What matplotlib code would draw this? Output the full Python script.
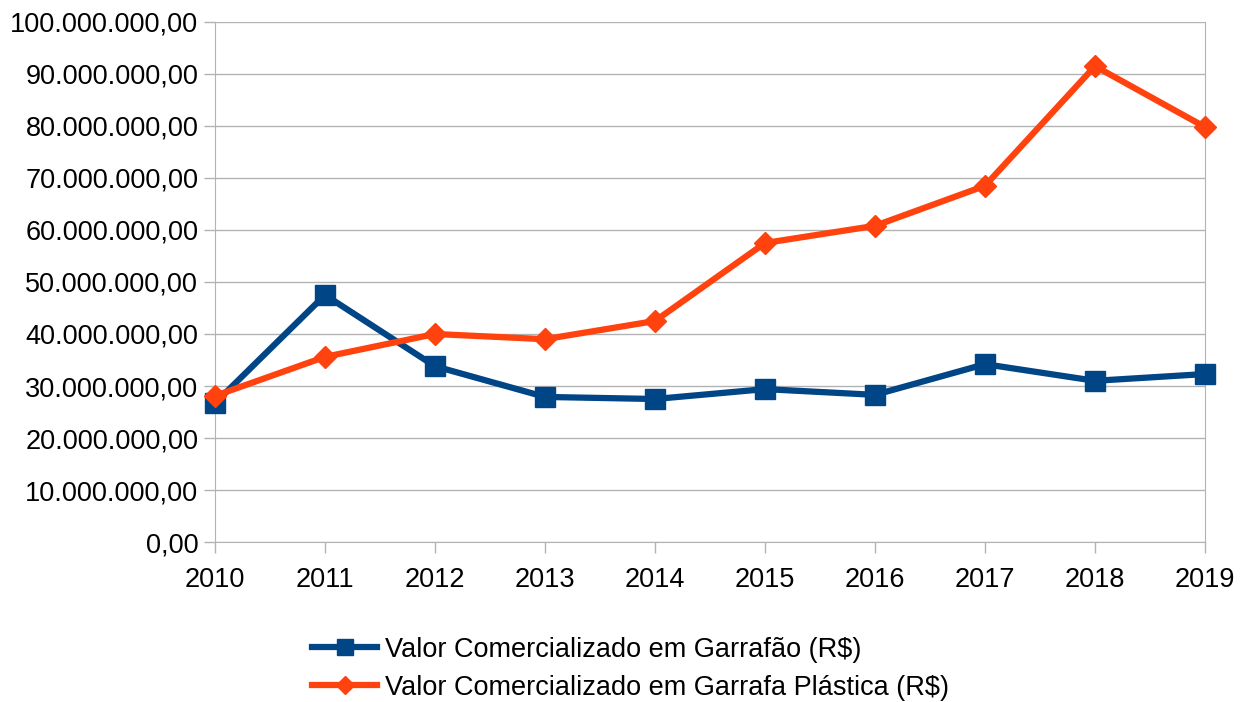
import matplotlib.pyplot as plt
from matplotlib.ticker import FuncFormatter

plt.rcParams['font.family'] = ['Liberation Sans', 'DejaVu Sans']

anos = [2010, 2011, 2012, 2013, 2014, 2015, 2016, 2017, 2018, 2019]
garrafao = [26.7e6, 47.5e6, 33.8e6, 27.9e6, 27.5e6, 29.4e6, 28.3e6, 34.2e6, 31.0e6, 32.3e6]
garrafa_plastica = [28.1e6, 35.6e6, 40.0e6, 39.0e6, 42.5e6, 57.5e6, 60.8e6, 68.5e6, 91.5e6, 79.8e6]
rotulos = ["Valor Comercializado em Garrafão (R$)",
           "Valor Comercializado em Garrafa Plástica (R$)"]

azul = "#004586"
laranja = "#ff420e"
cinza = "#b3b3b3"


def fmt_br(v, pos):
    s = f"{v:,.2f}"
    return s.replace(",", "X").replace(".", ",").replace("X", ".")


fig = plt.figure(figsize=(12.47, 7.02), dpi=100)
ax = fig.add_axes([0.1724, 0.2279, 0.7939, 0.7408])

ax.plot(anos, garrafao, color=azul, lw=4.5, marker="s", ms=14,
        label=rotulos[0], zorder=3, clip_on=False)
ax.plot(anos, garrafa_plastica, color=laranja, lw=4.5, marker="D", ms=11.5,
        label=rotulos[1], zorder=4, clip_on=False)

ax.set_xlim(2010, 2019)
ax.set_ylim(0, 100e6)
ax.set_xticks(anos)
ax.set_yticks([i * 10e6 for i in range(11)])
ax.yaxis.set_major_formatter(FuncFormatter(fmt_br))
ax.grid(axis="y", color=cinza, lw=1)
ax.set_axisbelow(True)
for s in ax.spines.values():
    s.set_color(cinza)
ax.spines["top"].set_visible(False)
ax.tick_params(axis="both", colors=cinza, labelcolor="black", labelsize=19.5,
               length=8, width=1)
ax.tick_params(axis="y", pad=4)
ax.tick_params(axis="x", pad=10)

leg = ax.legend(loc="upper center", bbox_to_anchor=(0.42, -0.135), frameon=False,
                fontsize=19.5, handlelength=2.4, handletextpad=0.3,
                labelspacing=0.45, markerscale=0.8)

fig.savefig("out.png", dpi=100)
